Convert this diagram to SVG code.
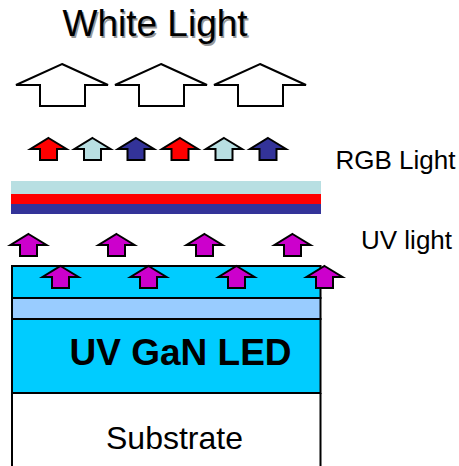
<svg xmlns="http://www.w3.org/2000/svg" width="459" height="466" viewBox="0 0 459 466">
<style>
text{font-family:"Liberation Sans",Arial,sans-serif;fill:#000}
.layer{stroke:#000;stroke-width:2}
.big{stroke:#000;stroke-width:2;fill:#fff}
.small{stroke:#000;stroke-width:2;stroke-linejoin:miter}
.band{stroke:none}
</style>
<defs>
<path id="bigArrow" d="M0 0L46 21H23V42H-22V21H-46Z"/>
<path id="smallArrow" d="M0 0L18 11H8.500V22H-8.500V11H-18Z"/>
</defs>
<rect width="459" height="466" fill="#fff"/>
<g id="title">
<text x="64" y="37.500" font-size="37" style="fill:#999">White Light</text>
<text x="62.500" y="36" font-size="37">White Light</text>
</g>
<g id="white-arrows">
<use href="#bigArrow" x="62" y="64" class="big"/>
<use href="#bigArrow" x="161" y="64" class="big"/>
<use href="#bigArrow" x="260" y="64" class="big"/>
</g>
<g id="rgb-arrows">
<use href="#smallArrow" x="48.500" y="138" class="small" fill="#ff0000"/>
<use href="#smallArrow" x="92.500" y="138" class="small" fill="#b8dfe2"/>
<use href="#smallArrow" x="136" y="138" class="small" fill="#333399"/>
<use href="#smallArrow" x="180" y="138" class="small" fill="#ff0000"/>
<use href="#smallArrow" x="224" y="138" class="small" fill="#b8dfe2"/>
<use href="#smallArrow" x="268" y="138" class="small" fill="#333399"/>
</g>
<g id="rgb-label"><text x="335.500" y="169" font-size="26">RGB Light</text></g>
<g id="phosphor-layers">
<rect class="band" x="11" y="181" width="310" height="13" fill="#b8dfe2"/>
<rect class="band" x="11" y="194" width="310" height="10" fill="#ff0000"/>
<rect class="band" x="11" y="204" width="310" height="10" fill="#333399"/>
</g>
<g id="uv-label"><text x="361" y="249" font-size="26">UV light</text></g>
<g id="led-layers">
<rect class="layer" x="12" y="266" width="308.500" height="32" fill="#00ccff"/>
<rect class="layer" x="12" y="298" width="308.500" height="21" fill="#99ccff"/>
<rect class="layer" x="12" y="319" width="308.500" height="74" fill="#00ccff"/>
<path class="layer" d="M12 393V466M320.500 393V466" fill="none"/>
</g>
<g id="uv-arrows">
<use href="#smallArrow" x="28.500" y="234" class="small" fill="#cc00cc"/>
<use href="#smallArrow" x="116.500" y="234" class="small" fill="#cc00cc"/>
<use href="#smallArrow" x="204.500" y="234" class="small" fill="#cc00cc"/>
<use href="#smallArrow" x="292.500" y="234" class="small" fill="#cc00cc"/>
<use href="#smallArrow" x="60.500" y="266" class="small" fill="#cc00cc"/>
<use href="#smallArrow" x="148.500" y="266" class="small" fill="#cc00cc"/>
<use href="#smallArrow" x="236.500" y="266" class="small" fill="#cc00cc"/>
<use href="#smallArrow" x="324.500" y="266" class="small" fill="#cc00cc"/>
</g>
<g id="led-label"><text x="69.500" y="365" font-size="37" font-weight="700">UV GaN LED</text></g>
<g id="substrate-label"><text x="106" y="449" font-size="32">Substrate</text></g>
</svg>
